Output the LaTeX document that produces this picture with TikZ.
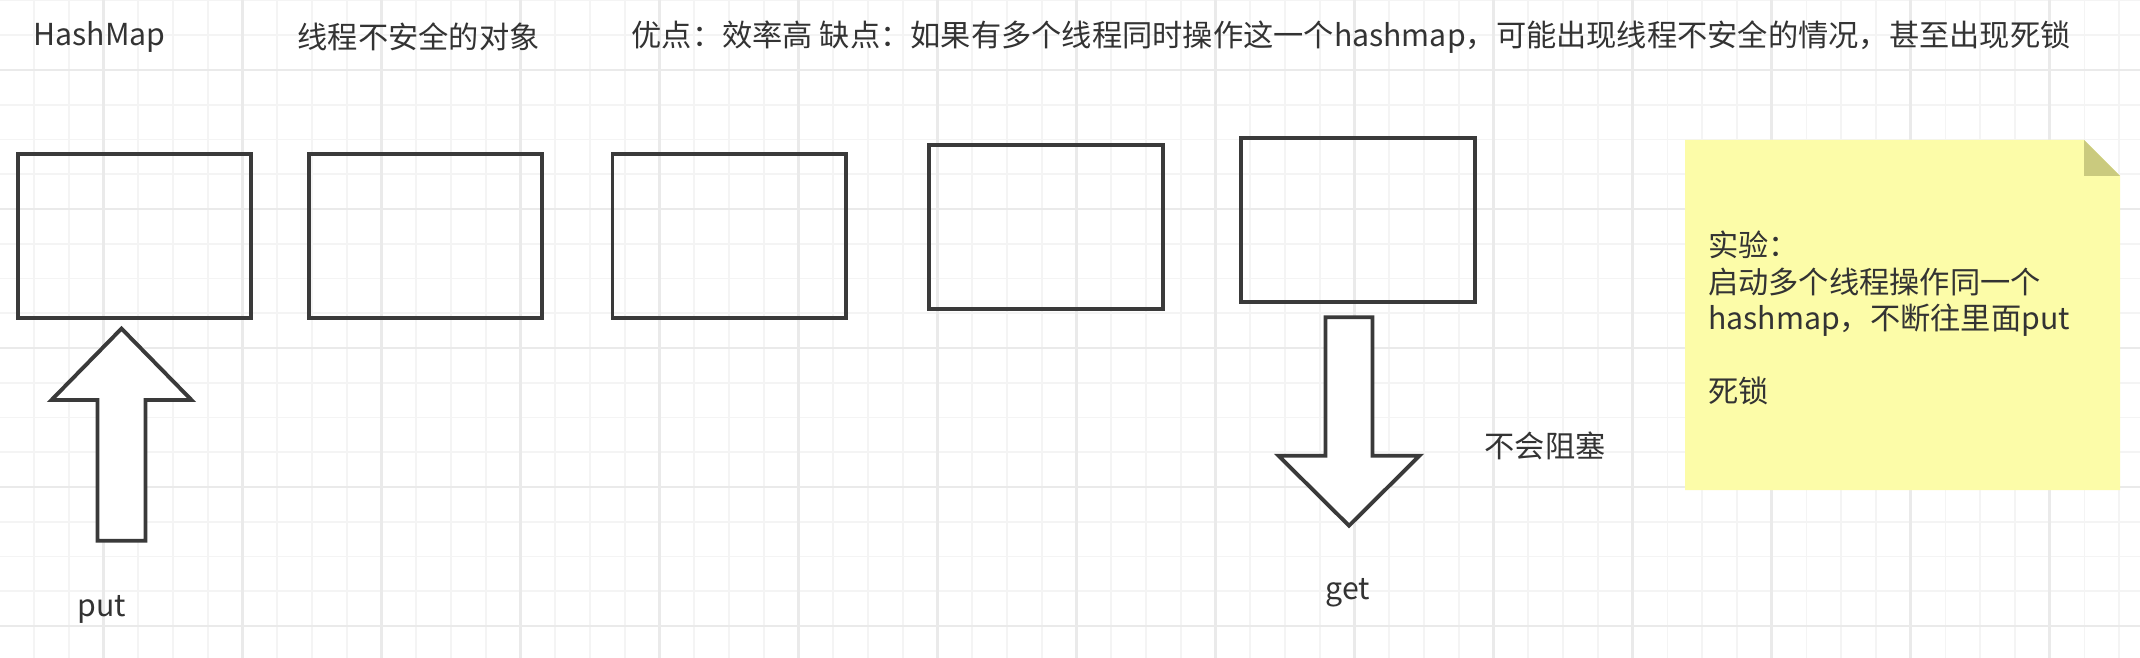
\documentclass[tikz,border=0pt]{standalone}
\usepackage{fontspec}
\setmainfont{Noto Sans CJK SC}
\definecolor{ink}{HTML}{333333}
\definecolor{boxline}{HTML}{3A3A3A}
\definecolor{gridminor}{HTML}{F4F4F4}
\definecolor{gridmajor}{HTML}{EAEAEA}
\definecolor{notefill}{HTML}{FCFCA8}
\definecolor{notefold}{HTML}{CACA7E}
\tikzset{
  slot/.style={draw=boxline,line width=1.1pt,minimum width=2.334cm,minimum height=1.64cm,inner sep=0pt},
  blockarrow/.style={draw=boxline,fill=white,line width=1.1pt,line join=miter},
  txt/.style={text=ink,inner sep=0pt,font=\fontsize{8.6}{10.4}\selectfont},
}
\begin{document}
\begin{tikzpicture}[yscale=-1,x=0.01cm,y=0.01cm]
    \fill[white] (0,0) rectangle (2140,658);
    \useasboundingbox (0,0) rectangle (2140,658);
    % grid
    \foreach \i in {-2,...,58}
      \draw[gridminor,line width=0.5pt] ({103.6+34.75*\i},0) -- ({103.6+34.75*\i},658);
    \foreach \i in {-2,...,16}
      \draw[gridminor,line width=0.5pt] (0,{70+34.75*\i}) -- (2140,{70+34.75*\i});
    \foreach \i in {0,...,14}
      \draw[gridmajor,line width=0.7pt] ({103.6+139*\i},0) -- ({103.6+139*\i},658);
    \foreach \i in {0,...,4}
      \draw[gridmajor,line width=0.7pt] (0,{70+139*\i}) -- (2140,{70+139*\i});
    % header line
    \node[txt,anchor=west] (title) at (33,37) {HashMap};
    \node[txt,anchor=west] (unsafe) at (297,37) {线程不安全的对象};
    \node[txt,anchor=west] (pros) at (631,37) {优点：效率高 缺点：如果有多个线程同时操作这一个hashmap，可能出现线程不安全的情况，甚至出现死锁};
    % buckets
    \node[slot] (box1) at (134.4,236.2) {};
    \node[slot] (box2) at (425.4,236.2) {};
    \node[slot] (box3) at (729.3,236.2) {};
    \node[slot] (box4) at (1046,226.8) {};
    \node[slot] (box5) at (1357.8,220.3) {};
    % put
    \draw[blockarrow] (97.5,540.7) -- (97.5,400) -- (51.5,400) -- (121.5,328.6) -- (191.5,400) -- (145.5,400) -- (145.5,540.7) -- cycle;
    \node[txt] (put) at (102,609) {put};
    % get
    \draw[blockarrow] (1325.5,317.3) -- (1372.5,317.3) -- (1372.5,455.7) -- (1419.5,455.7) -- (1349,525.7) -- (1278.5,455.7) -- (1325.5,455.7) -- cycle;
    \node[txt] (get) at (1348,593) {get};
    \node[txt] (noblock) at (1545,446) {不会阻塞};
    % note
    \fill[notefill] (1685,140) -- (2084,140) -- (2120,176) -- (2120,490) -- (1685,490) -- cycle;
    \fill[notefold] (2084,140) -- (2084,176) -- (2120,176) -- cycle;
    \node[txt,anchor=west,align=left] (notetext) at (1707.5,318) {实验：\\启动多个线程操作同一个\\hashmap，不断往里面put\\~\\死锁};
  \end{tikzpicture}
\end{document}
